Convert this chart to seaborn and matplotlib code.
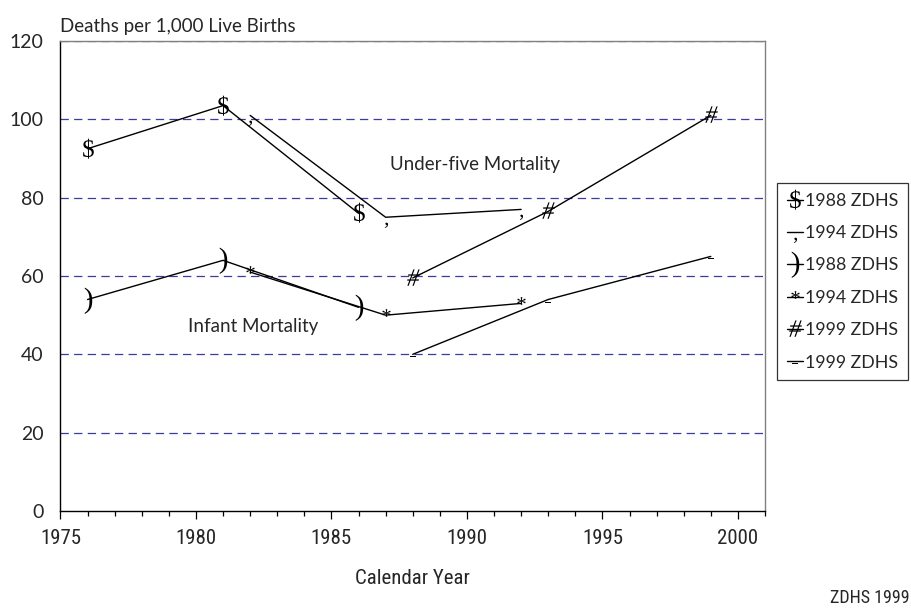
import numpy as np
import seaborn as sns
import matplotlib.pyplot as plt
from matplotlib import font_manager
from matplotlib.font_manager import FontProperties
from matplotlib.path import Path
from matplotlib.textpath import TextPath
from matplotlib.ticker import MultipleLocator

sns.set_style("white")
plt.rcParams["font.family"] = ["Lato", "DejaVu Sans"]
plt.rcParams["lines.scale_dashes"] = False

# data (deaths per 1,000 live births)
years_1988 = [1976, 1981, 1986]
years_1994 = [1982, 1987, 1992]
years_1999 = [1988, 1993, 1999]

u5_1988 = [92.5, 103.5, 76]
u5_1994 = [101, 75, 77]
imr_1988 = [54, 64, 52]
imr_1994 = [61, 50, 53]
u5_1999 = [59.5, 76.5, 101]
imr_1999 = [40, 54, 65]

labels = ["1988 ZDHS", "1994 ZDHS", "1988 ZDHS", "1994 ZDHS", "1999 ZDHS", "1999 ZDHS"]
grid_levels = [20, 40, 60, 80, 100, 120]

GRID_COLOR = "#3c3c9c"

# condensed face for the axis text, if one is around
installed = {f.name for f in font_manager.fontManager.ttflist}
narrow_fams = [n for n in ["Liberation Sans Narrow", "DejaVu Sans Condensed",
                           "Roboto Condensed", "Open Sans Condensed"]
               if n in installed]
NARROW = FontProperties(family=(narrow_fams[:1] or ["DejaVu Sans"]),
                        stretch="condensed")


def glyph_marker(ch, size=15, italic=False):
    """Marker made from a font glyph, vertex sitting ~0.35 em above baseline."""
    prop = FontProperties(family="Liberation Serif",
                          style="italic" if italic else "normal")
    tp = TextPath((0, 0), ch, size=size, prop=prop)
    verts = tp.vertices.copy()
    bb = tp.get_extents()
    verts[:, 0] -= (bb.x0 + bb.x1) / 2
    verts[:, 1] -= 0.35 * 15
    path = Path(verts, tp.codes)
    return path, 2 * np.abs(verts).max()


series = [
    (years_1988, u5_1988, glyph_marker("$", 18)),
    (years_1994, u5_1994, glyph_marker(",", 15)),
    (years_1988, imr_1988, glyph_marker(")", 21)),
    (years_1994, imr_1994, glyph_marker("*", 15)),
    (years_1999, u5_1999, glyph_marker("#", 18, italic=True)),
    (years_1999, imr_1999, glyph_marker("-", 15)),
]

fig = plt.figure(figsize=(9.12, 6.09), dpi=100)
ax = fig.add_axes([0.0663, 0.1609, 0.7725, 0.7718])

for level in grid_levels:
    ax.axhline(level, color=GRID_COLOR, linewidth=0.9,
               linestyle=(0, (6, 3.8)), zorder=1)

for (x, y, (mpath, msize)), label in zip(series, labels):
    sns.lineplot(
        x=x,
        y=y,
        color="black",
        linewidth=1.0,
        marker=mpath,
        markersize=msize,
        markeredgewidth=0,
        markerfacecolor="black",
        label=label,
        sort=False,
        ax=ax,
        zorder=3,
    )

ax.set_xlim(1975, 2001)
ax.set_ylim(0, 120)
ax.xaxis.set_major_locator(MultipleLocator(5))
ax.xaxis.set_minor_locator(MultipleLocator(1))
ax.yaxis.set_major_locator(MultipleLocator(20))

ax.tick_params(axis="x", which="major", direction="out", length=6,
               width=0.9, color="black", pad=7, bottom=True)
ax.tick_params(axis="x", which="minor", direction="out", length=3.5,
               width=0.9, color="black", bottom=True)
ax.tick_params(axis="y", length=0, pad=12, labelsize=14)
for lbl in ax.get_xticklabels():
    lbl.set_fontproperties(NARROW)
    lbl.set_fontsize(15)

for side in ["left", "bottom"]:
    ax.spines[side].set_color("black")
    ax.spines[side].set_linewidth(1.0)
for side in ["top", "right"]:
    ax.spines[side].set_color("#808080")
    ax.spines[side].set_linewidth(1.0)

ax.set_xlabel("Calendar Year", fontproperties=NARROW, fontsize=15,
              labelpad=15)
ax.set_ylabel("")
ax.text(0.0, 1.012, "Deaths per 1,000 Live Births", transform=ax.transAxes,
        ha="left", va="bottom", fontsize=13.5)

ax.text(1990.3, 88.5, "Under-five Mortality", ha="center", va="center",
        fontsize=13.5)
ax.text(1982.1, 47.2, "Infant Mortality", ha="center", va="center",
        fontsize=13.5)

fig.text(0.997, 0.003, "ZDHS 1999", ha="right", va="bottom",
         fontproperties=NARROW, fontsize=13)

leg = ax.legend(
    loc="upper left",
    bbox_to_anchor=(777 / 912, 1 - 183 / 609),
    bbox_transform=fig.transFigure,
    borderaxespad=0,
    prop={"size": 12.8},
    frameon=True,
    fancybox=False,
    handlelength=0.9,
    handletextpad=0.15,
    labelspacing=0.92,
    borderpad=0.55,
)
leg.get_frame().set_edgecolor("black")
leg.get_frame().set_linewidth(0.9)

fig.savefig("out.png", dpi=100)
